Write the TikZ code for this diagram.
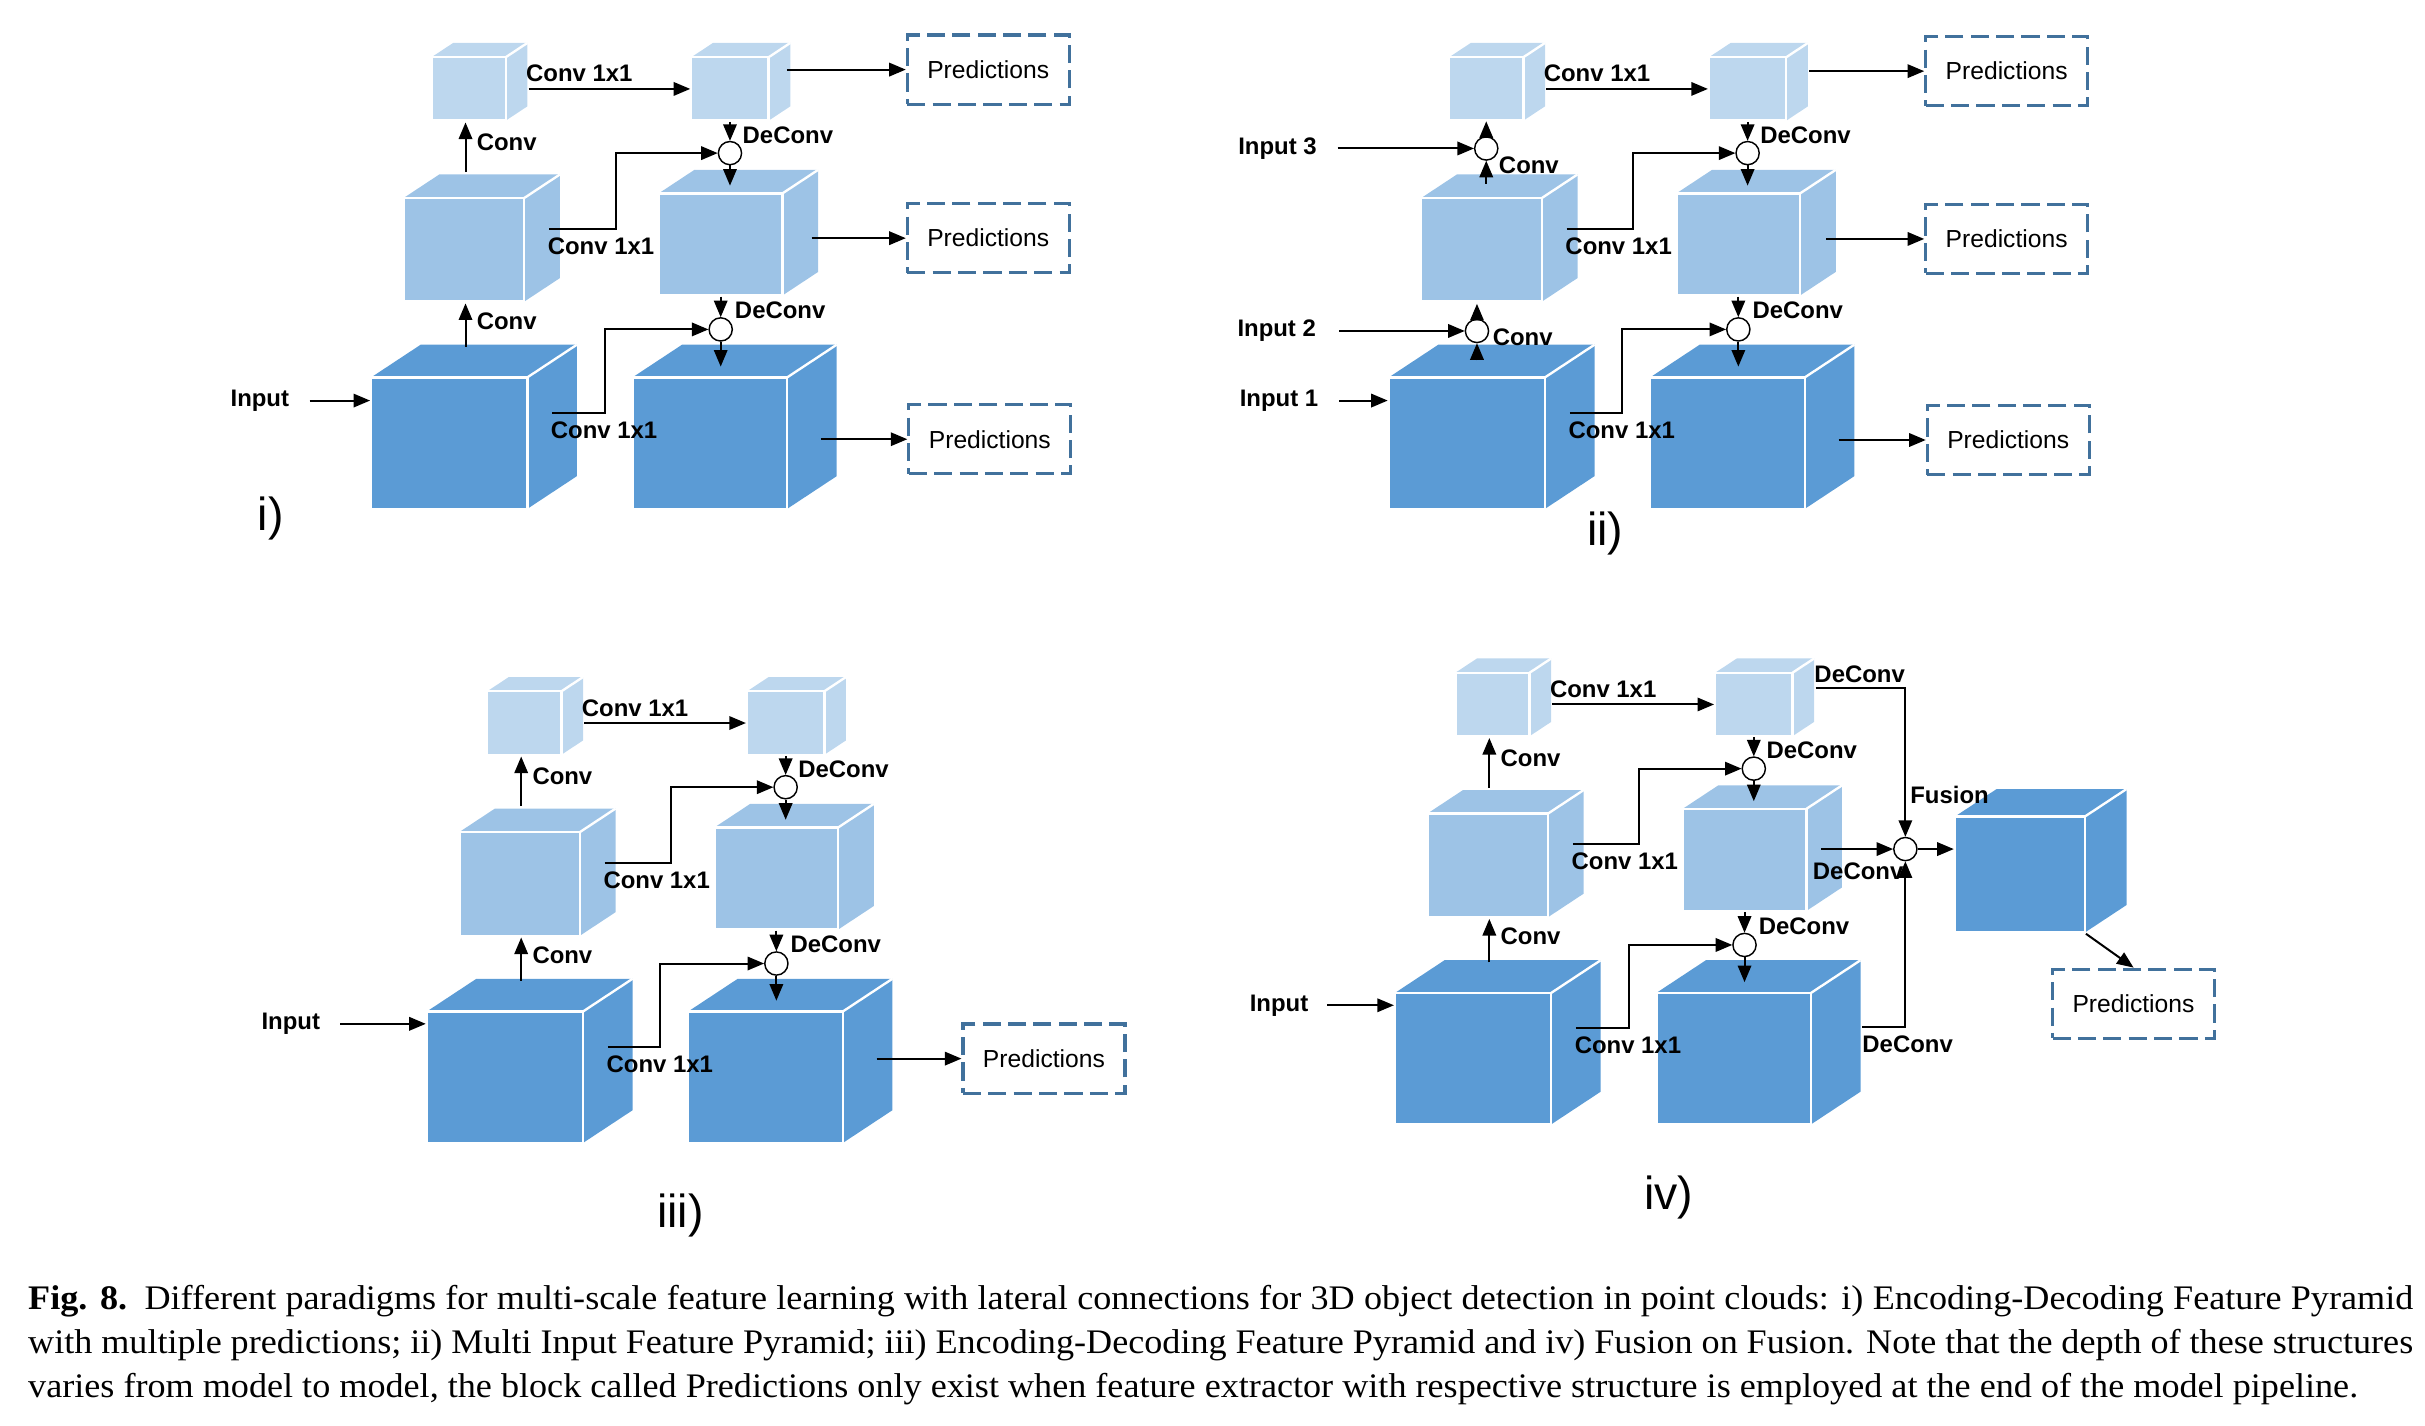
\documentclass[tikz,border=0pt]{standalone}
\usepackage{fontspec}
\setsansfont{Liberation Sans}
\newfontfamily\capfont{Liberation Serif}[FakeStretch=1.05]
\usetikzlibrary{arrows,positioning}
\tikzset{every picture/.style={/utils/exec={\sffamily}}}
\definecolor{cubelight}{HTML}{BDD7EE}
\definecolor{cubemid}{HTML}{9DC3E6}
\definecolor{cubedark}{HTML}{5B9BD5}
\definecolor{predblue}{HTML}{41719C}
\tikzset{cubefront/.style={draw=white, line width=1.3pt, inner sep=0pt}}
\tikzset{cubeedge/.style={white, line width=1.3pt}}
\tikzset{flow/.style={-triangle 45, line width=1.1pt}}
\tikzset{sumnode/.style={circle, draw, fill=white, line width=0.8pt, minimum size=0.45cm, inner sep=0pt}}
\tikzset{lbl/.style={font=\bfseries\fontsize{13.2}{15}\selectfont, inner sep=0pt}}
\tikzset{pred/.style={draw=predblue, line width=1.8pt, dash pattern=on 10pt off 4pt, minimum width=3.14cm, minimum height=1.34cm, font=\fontsize{13.6}{16}\selectfont}}
\tikzset{numeral/.style={font=\fontsize{25.6}{30}\selectfont, inner sep=0pt}}

% #1 name, #2 colour, (#3,#4) front top left, (#5,#6) front bottom right, #7 depth
\newcommand{\pyrcube}[7]{
    \fill[#2] (#3,#4) -- ++(#7,-0.66*#7) -- (#5+#7,#4-0.66*#7) -- (#5+#7,#6-0.66*#7) -- (#5,#6) -- (#5,#4) -- cycle;
    \draw[cubeedge] (#5,#4) -- ++(#7,-0.66*#7);
    \node[cubefront, fill=#2, minimum width={(#5-#3)*0.03cm}, minimum height={(#6-#4)*0.03cm}] (#1) at ({(#3+#5)/2},{(#4+#6)/2}) {};
}

\begin{document}
\begin{tikzpicture}[x=0.03cm, y=-0.03cm]
    \useasboundingbox (0,0) rectangle (1568,922);
    % the pyramid that all four panels share
    \foreach \sx/\sy/\p in {0/0/1, 658/0/2, 36/410/3, 662/398/4} {
        \begin{scope}[shift={(\sx,\sy)}]
            \pyrcube{sL\p}{cubelight}{279}{37}{327}{78}{14}
            \pyrcube{sR\p}{cubelight}{447}{37}{497}{78}{14}
            \pyrcube{mL\p}{cubemid}{261}{128}{339}{195}{23}
            \pyrcube{mR\p}{cubemid}{426}{125}{506}{191}{23}
            \pyrcube{bL\p}{cubedark}{240}{244}{341}{329}{32}
            \pyrcube{bR\p}{cubedark}{409}{244}{509}{329}{32}
            \node[sumnode] (sumU\p) at (472,99) {};
            \node[sumnode] (sumD\p) at (466,213) {};
            \coordinate (latU\p) at (355,148);
            \coordinate (latD\p) at (357,267);
            \node[lbl, anchor=base west] (cA\p) at (340,53) {Conv 1x1};
            \node[lbl, anchor=base west] (cB\p) at (354,164.5) {Conv 1x1};
            \node[lbl, anchor=base west] (cC\p) at (356,283.5) {Conv 1x1};
            \node[lbl, anchor=base west] (dA\p) at (480,92.5) {DeConv};
            \node[lbl, anchor=base west] (dB\p) at (475,206) {DeConv};
        \end{scope}
        \draw[flow] (sL\p.east) ++(14,0) -- (sR\p.west);
        \draw[flow] (latU\p) -- ++(43,0) |- (sumU\p.west);
        \draw[flow] (latD\p) -- ++(34,0) |- (sumD\p.west);
        \draw[flow] (sR\p.south) -- (sumU\p.north);
        \draw[flow] (mR\p.south) -- (sumD\p.north);
        \draw[flow] (sumU\p.south) -- ++(0,13);
        \draw[flow] (sumD\p.south) -- ++(0,16);
    }
    % plain conv steps
    \foreach \p in {1,3,4} {
        \draw[flow] (mL\p.north) ++(1,-16) -- node[lbl, pos=.6, right=2mm] (cvU\p) {Conv} ++(0,-32);
        \draw[flow] (bL\p.north) ++(10.5,-19) -- node[lbl, pos=.6, right=2mm] (cvD\p) {Conv} ++(0,-28);
    }

    % i)
    \node[lbl] (inA) at (168,259) {Input};
    \draw[flow] ([xshift=3.9mm]inA.east) -- (inA -| bL1.west);
    \node[pred] (prA1) at (639,45) {Predictions};
    \node[pred] (prA2) at (639,154) {Predictions};
    \node[pred] (prA3) at (640,284) {Predictions};
    \draw[flow] (prA1.west -| sR1.east) ++(11,0) -- (prA1.west);
    \draw[flow] (prA2.west -| mR1.east) ++(18,0) -- (prA2.west);
    \draw[flow] (prA3.west -| bR1.east) ++(21,0) -- (prA3.west);
    \node[numeral] (numA) at (175,335) {i)};

    % ii)
    \node[lbl] (inB3) at (826,96) {Input 3};
    \node[lbl] (inB2) at (825.5,214) {Input 2};
    \node[lbl] (inB1) at (827,259) {Input 1};
    \node[sumnode] (sumI3) at (961,96) {};
    \node[sumnode] (sumI2) at (955,214) {};
    \draw[flow] ([xshift=4mm]inB3.east) -- (sumI3.west);
    \draw[flow] ([xshift=4.5mm]inB2.east) -- (sumI2.west);
    \draw[flow] ([xshift=4mm]inB1.east) -- (inB1 -| bL2.west);
    \draw[flow] (sumI3.south) ++(0,15) -- (sumI3.south);
    \draw[flow] (sumI3.north) -- ++(0,-9.5);
    \draw[flow] (sumI2.south) ++(0,11) -- (sumI2.south);
    \draw[flow] (sumI2.north) -- ++(0,-9.5);
    \node[lbl, anchor=base west] (cvU2) at (969,112.5) {Conv};
    \node[lbl, anchor=base west] (cvD2) at (965,223.5) {Conv};
    \node[pred] (prB1) at (1297.5,46) {Predictions};
    \node[pred] (prB2) at (1297.5,154.5) {Predictions};
    \node[pred] (prB3) at (1298.5,284.5) {Predictions};
    \draw[flow] (prB1.west -| sR2.east) ++(14,0) -- (prB1.west);
    \draw[flow] (prB2.west -| mR2.east) ++(16,0) -- (prB2.west);
    \draw[flow] (prB3.west -| bR2.east) ++(21,0) -- (prB3.west);
    \node[numeral] (numB) at (1038,345) {ii)};

    % iii)
    \node[lbl] (inC) at (188,662) {Input};
    \draw[flow] ([xshift=3.9mm]inC.east) -- (inC -| bL3.west);
    \node[pred] (prC) at (675,684.5) {Predictions};
    \draw[flow] (prC.west -| bR3.east) ++(21,0) -- (prC.west);
    \node[numeral] (numC) at (440,786) {iii)};

    % iv)
    \node[lbl] (inD) at (827,650) {Input};
    \draw[flow] ([xshift=3.6mm]inD.east) -- (inD -| bL4.west);
    \pyrcube{fc}{cubedark}{1264}{528}{1348}{603}{27}
    \node[sumnode] (fus) at (1232,549) {};
    \coordinate (dcT) at (1174,445);
    \coordinate (dcB) at (1204,664);
    \draw[flow] (dcT) -| (fus.north);
    \draw[flow] (dcB) -| (fus.south);
    \draw[flow] (fus.west -| mR4.east) ++(9,0) -- (fus.west);
    \draw[flow] (fus.east) -- (fus.east -| fc.west);
    \node[lbl, anchor=base west] (dcTl) at (1173,441.5) {DeConv};
    \node[lbl, anchor=base west] (dcMl) at (1172,568.5) {DeConv};
    \node[lbl, anchor=base west] (dcBl) at (1204,680.5) {DeConv};
    \node[lbl, anchor=base west] (fusl) at (1235,519.5) {Fusion};
    \node[pred] (prD) at (1379.5,649) {Predictions};
    \draw[flow] (fc.south east) -- (prD.north);
    \node[numeral] (numD) at (1079,774) {iv)};

    % caption
    \node[anchor=north west, inner sep=0pt, text width=46.26cm, align=justify, font=\capfont\fontsize{19}{24.3}\selectfont] (caption) at (18,831)
        {\parfillskip=0pt \tolerance=9999 \hyphenpenalty=10000 \textbf{Fig. 8.}\enspace Different paradigms for multi-scale feature learning with lateral connections for 3D object detection in point clouds: i) Encoding-Decoding Feature Pyramid\linebreak
        with multiple predictions; ii) Multi Input Feature Pyramid; iii) Encoding-Decoding Feature Pyramid and iv) Fusion on Fusion. Note that the depth of these structures\linebreak
        varies from model to model, the block called Predictions only exist when feature extractor with respective structure is employed at the end of the model pipeline.};
\end{tikzpicture}
\end{document}
